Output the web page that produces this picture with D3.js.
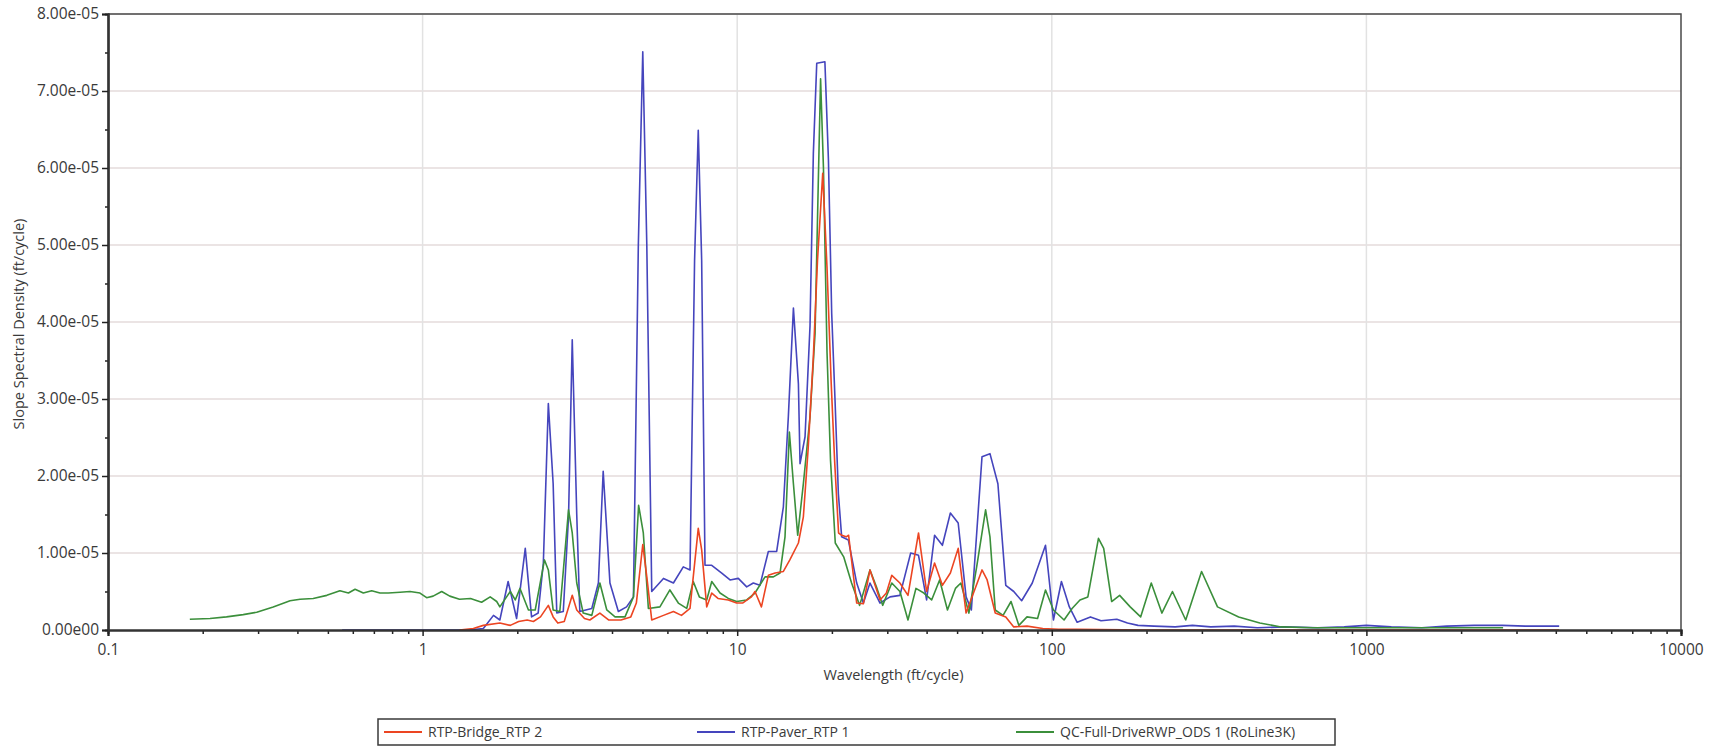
<!DOCTYPE html>
<html><head><meta charset="utf-8">
<script src="https://cdn.jsdelivr.net/npm/d3@7/dist/d3.min.js"></script>
<style>
body{margin:0;background:#fff}
svg{display:block}
text{font-family:"Open Sans","Noto Sans",sans-serif;fill:#3a3a3a}
</style>
</head><body>
<svg id="chart" width="1728" height="747"></svg>
<script>
// ---- Axis ticks ----
const xTickValues = [0.1, 1, 10, 100, 1000, 10000];
const xTickLabels = ["0.1", "1", "10", "100", "1000", "10000"];
const yTickValues = [0, 1e-5, 2e-5, 3e-5, 4e-5, 5e-5, 6e-5, 7e-5, 8e-5];
const yTickLabels = ["0.00e00", "1.00e-05", "2.00e-05", "3.00e-05", "4.00e-05", "5.00e-05", "6.00e-05", "7.00e-05", "8.00e-05"];
const xTitle = "Wavelength (ft/cycle)";
const yTitle = "Slope Spectral Density (ft/cycle)";
const seriesNames = ["RTP-Bridge_RTP 2", "RTP-Paver_RTP 1", "QC-Full-DriveRWP_ODS 1 (RoLine3K)"];

// ---- Series: wavelength (ft/cycle) and SSD values in units of 1e-5 ----
const redW = [1.31,1.45,1.56,1.76,1.90,2.02,2.15,2.25,2.37,2.51,2.60,2.69,2.82,2.99,3.09,3.27,3.40,3.66,3.90,4.27,4.59,4.78,5.01,5.16,5.35,5.83,6.27,6.65,7.08,7.52,7.71,8.00,8.30,8.69,9.37,9.96,10.4,11.1,11.39,11.94,12.56,13.2,14.02,14.7,15.65,16.23,16.8,17.46,18.0,18.7,19.3,19.9,20.4,21.0,21.5,22.2,22.6,23.98,25.18,26.43,28.44,29.8,31.0,32.9,34.9,37.7,40.0,42.4,44.9,47.6,50.4,53.4,60.0,62.3,66.1,71.4,75.7,83.4,93.6,105,120,200,500,1000,2000,4100];
const redV = [0,0.02,0.06,0.09,0.06,0.11,0.13,0.11,0.17,0.32,0.17,0.09,0.11,0.45,0.26,0.15,0.13,0.22,0.13,0.13,0.17,0.35,1.11,0.69,0.13,0.19,0.24,0.19,0.28,1.32,1.04,0.30,0.48,0.41,0.39,0.35,0.35,0.43,0.50,0.30,0.71,0.74,0.76,0.91,1.13,1.47,2.34,3.55,4.8,5.93,4.7,3.2,2.2,1.26,1.23,1.21,1.23,0.35,0.34,0.78,0.39,0.48,0.71,0.61,0.45,1.26,0.50,0.87,0.58,0.74,1.06,0.22,0.78,0.65,0.22,0.17,0.04,0.05,0.02,0.01,0.01,0,0,0,0,0];

const blueW = [0.555,1.0,1.40,1.56,1.68,1.76,1.87,1.99,2.12,2.22,2.33,2.42,2.51,2.60,2.67,2.80,2.91,2.99,3.09,3.16,3.45,3.62,3.75,3.94,4.19,4.45,4.68,4.85,5.01,5.16,5.35,5.83,6.27,6.74,7.08,7.32,7.52,7.71,7.90,8.30,8.93,9.49,10.08,10.72,11.25,11.81,12.56,13.35,14.02,14.54,15.09,15.65,15.84,16.43,17.04,17.46,17.90,19.00,19.50,19.97,20.46,20.97,21.48,22.56,23.98,25.18,26.43,28.44,30.61,32.9,35.6,37.7,40.0,42.4,44.9,47.6,50.4,53.4,55.5,60.0,63.6,67.4,71.4,75.7,80.2,86.7,95.5,101.2,107.3,113.7,120.4,132.7,143.4,160.9,174.0,188.0,211.3,246.6,280,320,380,450,550,700,850,1000,1200,1500,1800,2200,2700,3200,4100];
const blueV = [0,0,0,0.02,0.19,0.13,0.63,0.15,1.06,0.17,0.22,0.87,2.94,1.90,0.22,0.24,1.47,3.77,1.50,0.24,0.28,0.61,2.06,0.61,0.24,0.30,0.43,5.0,7.51,5.0,0.50,0.67,0.61,0.82,0.78,4.8,6.49,4.8,0.84,0.84,0.74,0.65,0.67,0.56,0.61,0.58,1.02,1.02,1.60,2.77,4.18,3.20,2.16,2.51,3.95,6.19,7.36,7.38,6.10,4.11,2.99,1.77,1.21,1.17,0.61,0.35,0.61,0.35,0.43,0.45,1.00,0.97,0.39,1.23,1.10,1.52,1.39,0.43,0.26,2.25,2.29,1.90,0.58,0.50,0.38,0.61,1.10,0.13,0.63,0.30,0.10,0.17,0.12,0.14,0.09,0.06,0.05,0.04,0.06,0.04,0.05,0.03,0.04,0.03,0.04,0.06,0.04,0.03,0.05,0.06,0.06,0.05,0.05];

const greenW = [0.182,0.211,0.238,0.269,0.297,0.335,0.379,0.408,0.449,0.496,0.546,0.581,0.610,0.648,0.689,0.732,0.778,0.848,0.912,0.981,1.03,1.08,1.15,1.22,1.31,1.42,1.54,1.64,1.72,1.76,1.90,1.97,2.04,2.17,2.28,2.44,2.51,2.60,2.73,2.91,2.99,3.09,3.24,3.45,3.66,3.85,4.09,4.40,4.68,4.86,5.03,5.22,5.68,6.11,6.50,6.91,7.25,7.58,8.00,8.30,8.82,9.37,9.96,10.72,11.39,12.26,13.03,13.68,14.19,14.65,15.09,15.57,16.23,17.04,17.68,18.1,18.41,18.8,19.3,19.8,20.5,21.8,23.1,24.5,26.43,27.7,29.0,31.0,32.9,34.9,37.0,39.2,41.5,44.0,46.6,49.4,51.4,54.5,57.7,61.6,63.6,66.1,70.0,74.2,78.6,83.4,90.1,95.5,101.2,109.4,116.0,122.9,130.2,140.7,146.2,155.0,164.3,177.5,191.6,207.1,223.8,241.8,266.5,299.3,336.3,392.6,458.3,535.2,675,993,1581,2720];
const greenV = [0.14,0.15,0.17,0.20,0.23,0.30,0.38,0.40,0.41,0.45,0.51,0.48,0.53,0.48,0.51,0.48,0.48,0.49,0.50,0.48,0.42,0.44,0.50,0.44,0.40,0.41,0.36,0.43,0.37,0.30,0.50,0.39,0.54,0.26,0.26,0.91,0.78,0.26,0.24,1.56,1.26,0.61,0.22,0.19,0.61,0.26,0.17,0.17,0.43,1.62,1.26,0.28,0.30,0.52,0.35,0.28,0.63,0.43,0.39,0.63,0.48,0.41,0.37,0.39,0.48,0.69,0.69,0.74,1.21,2.57,1.90,1.23,1.90,2.77,3.85,5.8,7.16,6.0,3.6,2.2,1.13,0.95,0.61,0.32,0.78,0.56,0.32,0.61,0.50,0.13,0.54,0.48,0.39,0.65,0.26,0.54,0.61,0.22,0.82,1.56,1.21,0.26,0.19,0.37,0.06,0.17,0.15,0.52,0.26,0.13,0.28,0.39,0.43,1.19,1.06,0.37,0.45,0.30,0.17,0.61,0.22,0.50,0.13,0.76,0.30,0.17,0.09,0.04,0.03,0.03,0.03,0.03];

const colors = { red: "#ec4522", blue: "#4545bd", green: "#3b8f3b" };

// ---- Layout ----
const svg = d3.select("#chart");
const L = 108, R = 1681, T = 14, B = 630;
const x = d3.scaleLog().domain([0.1, 10000]).range([L, R]);
const y = d3.scaleLinear().domain([0, 8e-5]).range([B, T]);

// grid
const grid = svg.append("g");
grid.selectAll("line.h").data(yTickValues.slice(1)).join("line")
  .attr("x1", L).attr("x2", R).attr("y1", d => y(d)).attr("y2", d => y(d))
  .attr("stroke", "#ebe4e4").attr("stroke-width", 2);
grid.selectAll("line.v").data(xTickValues.slice(1, -1)).join("line")
  .attr("x1", d => x(d)).attr("x2", d => x(d)).attr("y1", T).attr("y2", B)
  .attr("stroke", "#e2e2e2").attr("stroke-width", 1.5);

// lines
const line = d3.line().x(d => x(d[0])).y(d => y(d[1] * 1e-5));
const zip = (w, v) => w.map((d, i) => [d, v[i]]);
const plot = svg.append("g");
[["blue", blueW, blueV], ["green", greenW, greenV], ["red", redW, redV]].forEach(([c, w, v]) => {
  plot.append("path").datum(zip(w, v)).attr("d", line)
    .attr("fill", "none").attr("stroke", colors[c]).attr("stroke-width", 1.6)
    .attr("stroke-linejoin", "round");
});

// frame (top/right)
svg.append("path").attr("d", `M${L},${T}H${R}V${B}`).attr("fill", "none")
  .attr("stroke", "#4a4a4a").attr("stroke-width", 1.5);

// x axis
const minorX = [];
for (let e = -1; e < 4; e++) for (let k = 2; k <= 9; k++) minorX.push(k * Math.pow(10, e));
const xMinor = d3.axisBottom(x).tickValues(minorX).tickSize(4).tickFormat("");
const xMajor = d3.axisBottom(x).tickValues(xTickValues).tickSize(6)
  .tickFormat((d, i) => xTickLabels[i]).tickPadding(8);
const gxm = svg.append("g").attr("transform", `translate(0,${B})`).call(xMinor);
const gx = svg.append("g").attr("transform", `translate(0,${B})`).call(xMajor);
[gxm, gx].forEach(g => {
  g.select(".domain").attr("stroke", "#333").attr("stroke-width", 2.2);
  g.selectAll(".tick line").attr("stroke", "#222").attr("stroke-width", 1.5);
});
gx.selectAll(".tick text").attr("font-size", 15.5).attr("fill", "#3a3a3a")
  .attr("font-family", '"Open Sans","Noto Sans",sans-serif');

// y axis
const minorY = d3.range(0, 8).map(i => (i + 0.5) * 1e-5);
const yMinor = d3.axisLeft(y).tickValues(minorY).tickSize(3).tickFormat("");
const yMajor = d3.axisLeft(y).tickValues(yTickValues).tickSize(6)
  .tickFormat((d, i) => yTickLabels[i]).tickPadding(3);
const gym = svg.append("g").attr("transform", `translate(${L},0)`).call(yMinor);
const gy = svg.append("g").attr("transform", `translate(${L},0)`).call(yMajor);
[gym, gy].forEach(g => {
  g.select(".domain").attr("stroke", "#333").attr("stroke-width", 2.2);
  g.selectAll(".tick line").attr("stroke", "#222").attr("stroke-width", 1.5);
});
gy.selectAll(".tick text").attr("font-size", 15.5).attr("fill", "#3a3a3a")
  .attr("font-family", '"Open Sans","Noto Sans",sans-serif');

// titles
svg.append("text").attr("x", (L + R) / 2 - 1).attr("y", 680).attr("text-anchor", "middle")
  .attr("font-size", 14.5).text(xTitle);
svg.append("text").attr("transform", `translate(24,${(T + B) / 2 + 2}) rotate(-90)`)
  .attr("text-anchor", "middle").attr("font-size", 14.5).text(yTitle);

// legend
const lg = svg.append("g");
lg.append("rect").attr("x", 378).attr("y", 719).attr("width", 957).attr("height", 26)
  .attr("fill", "#fff").attr("stroke", "#3a3a3a").attr("stroke-width", 1.5);
const legendItems = [
  { name: seriesNames[0], color: colors.red, x0: 384 },
  { name: seriesNames[1], color: colors.blue, x0: 697 },
  { name: seriesNames[2], color: colors.green, x0: 1016 }
];
legendItems.forEach(it => {
  lg.append("line").attr("x1", it.x0).attr("x2", it.x0 + 38).attr("y1", 732).attr("y2", 732)
    .attr("stroke", it.color).attr("stroke-width", 2);
  lg.append("text").attr("x", it.x0 + 44).attr("y", 737).attr("font-size", 14).text(it.name);
});
</script>
</body></html>
